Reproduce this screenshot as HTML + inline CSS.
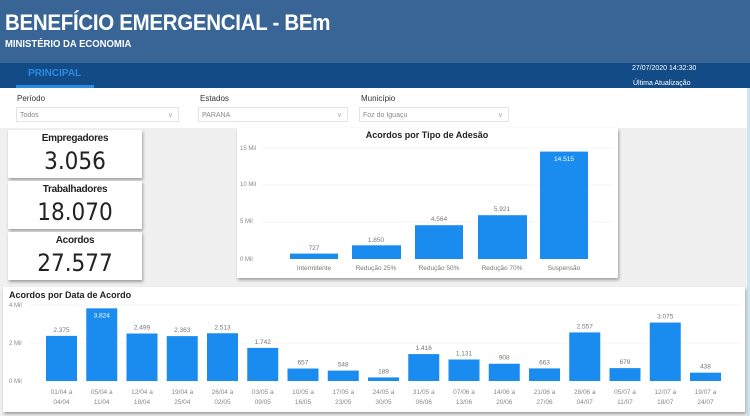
<!DOCTYPE html>
<html><head><meta charset="utf-8"><style>
body{margin:0;width:750px;height:416px;overflow:hidden;background:#f0f0f0;font-family:"Liberation Sans","DejaVu Sans",sans-serif;position:relative}
.a{position:absolute}
.card{position:absolute;background:#fff;box-shadow:1px 2px 3px rgba(0,0,0,.35)}
.dd{position:absolute;top:107px;height:15px;border:1px solid #e4e4e4;background:#fff;font-size:7px;color:#888;line-height:15px;padding-left:3px;box-sizing:border-box}
.dd span{position:absolute;right:5px;color:#aaa}
.lab{position:absolute;top:94px;font-size:8px;color:#333}
.kt{font-size:10px;font-weight:bold;color:#222;text-align:center;width:100%;position:absolute;top:3px;letter-spacing:-0.3px}
.kv{font-size:24px;color:#222;text-align:center;width:100%;position:absolute;top:17px;font-family:"DejaVu Sans Condensed","Liberation Sans Narrow",sans-serif}
</style></head><body>
<div class="a" style="left:0;top:0;width:750px;height:63px;background:#386596"></div>
<div class="a" style="left:5px;top:10px;color:#fff;font-size:22px;font-weight:bold;letter-spacing:-0.3px;transform:scaleX(0.93);transform-origin:0 0;white-space:nowrap">BENEFÍCIO EMERGENCIAL - BEm</div>
<div class="a" style="left:5px;top:39px;color:#fff;font-size:10px;font-weight:bold;transform:scaleX(0.95);transform-origin:0 0;white-space:nowrap">MINISTÉRIO DA ECONOMIA</div>
<div class="a" style="left:0;top:63px;width:750px;height:25px;background:#134b86"></div>
<div class="a" style="left:28px;top:68px;color:#2a8be0;font-size:10px;font-weight:bold">PRINCIPAL</div>
<div class="a" style="left:16px;top:85px;width:78px;height:3px;background:#2a8be0"></div>
<div class="a" style="left:632px;top:65px;color:#fff;font-size:7px">27/07/2020 14:32:30</div>
<div class="a" style="left:633px;top:80px;color:#fff;font-size:7px">Última Atualização</div>
<div class="a" style="left:0;top:88px;width:747px;height:40px;background:#fff"></div>
<div class="a" style="left:747px;top:88px;width:3px;height:328px;background:#cfe6f0"></div>
<div class="lab" style="left:17px">Período</div>
<div class="lab" style="left:200px">Estados</div>
<div class="lab" style="left:361px">Município</div>
<div class="dd" style="left:16px;width:163px">Todos<span>∨</span></div>
<div class="dd" style="left:198px;width:150px">PARANA<span>∨</span></div>
<div class="dd" style="left:359px;width:150px">Foz do Iguaçu<span>∨</span></div>

<div class="card" style="left:8px;top:130px;width:134px;height:48px"><div class="kt">Empregadores</div><div class="kv">3.056</div></div>
<div class="card" style="left:8px;top:181px;width:134px;height:48px"><div class="kt">Trabalhadores</div><div class="kv">18.070</div></div>
<div class="card" style="left:8px;top:232px;width:134px;height:48px"><div class="kt">Acordos</div><div class="kv">27.577</div></div>

<div class="card" style="left:237px;top:128px;width:381px;height:150px"></div>
<svg class="a" style="left:0;top:0" width="750" height="416" font-family="Liberation Sans, sans-serif">
<text x="427" y="138" text-anchor="middle" font-size="9" font-weight="bold" fill="#222">Acordos por Tipo de Adesão</text>
<g font-size="6" fill="#888">
<text x="240" y="150">15 Mil</text><text x="240" y="186">10 Mil</text><text x="240" y="223">5 Mil</text><text x="240" y="261">0 Mil</text></g>
<g stroke="#eee" stroke-width="0.6"><line x1="262" y1="148" x2="612" y2="148"/><line x1="262" y1="185" x2="612" y2="185"/><line x1="262" y1="222" x2="612" y2="222"/></g>
<g fill="#1a8cf0">
<rect x="290" y="253.6" width="48" height="5.4"/>
<rect x="352" y="245.3" width="49" height="13.7"/>
<rect x="415" y="225.2" width="48" height="33.8"/>
<rect x="478" y="215.2" width="49" height="43.8"/>
<rect x="540" y="151.6" width="48" height="107.4"/></g>
<g font-size="6.5" fill="#777" text-anchor="middle">
<text x="314" y="250">727</text><text x="376" y="242">1.850</text><text x="439" y="221">4.564</text><text x="502" y="211">5.921</text>
<text x="564" y="161" fill="#fff">14.515</text>
<text x="314" y="270">Intermitente</text><text x="376" y="270">Redução 25%</text><text x="439" y="270">Redução 50%</text><text x="502" y="270">Redução 70%</text><text x="564" y="270">Suspensão</text></g>
</svg>

<div class="card" style="left:3px;top:287px;width:742px;height:125px"></div>
<svg class="a" style="left:0;top:0" width="750" height="416" font-family="Liberation Sans, sans-serif" id="b">
<text x="9" y="298" font-size="9" font-weight="bold" fill="#222">Acordos por Data de Acordo</text>
<g font-size="6" fill="#888"><text x="9" y="307">4 Mil</text><text x="9" y="345">2 Mil</text><text x="9" y="383">0 Mil</text></g>
<g stroke="#eee" stroke-width="0.6"><line x1="30" y1="305" x2="740" y2="305"/><line x1="30" y1="343" x2="740" y2="343"/></g>
</svg>
<script>
var v=[2375,3824,2499,2363,2513,1742,657,548,189,1416,1131,908,663,2557,679,3075,438];
var d=[["01/04 a","04/04"],["05/04 a","11/04"],["12/04 a","18/04"],["19/04 a","25/04"],["26/04 a","02/05"],["03/05 a","09/05"],["10/05 a","16/05"],["17/05 a","23/05"],["24/05 a","30/05"],["31/05 a","06/06"],["07/06 a","13/06"],["14/06 a","20/06"],["21/06 a","27/06"],["28/06 a","04/07"],["05/07 a","11/07"],["12/07 a","18/07"],["19/07 a","24/07"]];
var s='';
v.forEach(function(x,i){var l=46+i*40.25,h=x*0.019,y=381-h,c=l+15.5;
s+='<rect x="'+l+'" y="'+y+'" width="31" height="'+h+'" fill="#1a8cf0"/>';
var t=x>=1000?Math.floor(x/1000)+'.'+String(x%1000).padStart(3,'0'):String(x);
if(i==1)s+='<text x="'+c+'" y="'+(y+9)+'" font-size="6.5" fill="#fff" text-anchor="middle">'+t+'</text>';
else s+='<text x="'+c+'" y="'+(y-4)+'" font-size="6.5" fill="#777" text-anchor="middle">'+t+'</text>';
s+='<text x="'+c+'" y="394" font-size="6.5" fill="#888" text-anchor="middle">'+d[i][0]+'</text><text x="'+c+'" y="404" font-size="6.5" fill="#888" text-anchor="middle">'+d[i][1]+'</text>';});
document.getElementById('b').insertAdjacentHTML('beforeend',s);
</script>
</body></html>
